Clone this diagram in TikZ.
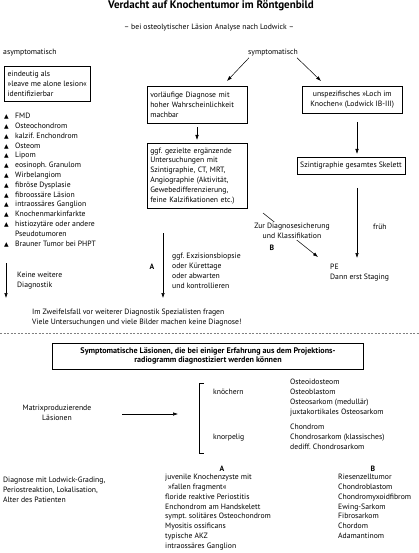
\documentclass[tikz,border=0pt]{standalone}
\usepackage{fontspec}
\setmainfont{PT Sans}
\newfontfamily\symfont{DejaVu Sans}
\usetikzlibrary{arrows.meta}
\newcommand\tri{\makebox[11pt][l]{\symfont\fontsize{6}{6}\selectfont ▲}}
\frenchspacing
\begin{document}
\begin{tikzpicture}[x=1pt,y=-1pt,
  every node/.style={inner sep=0pt, font=\fontsize{7.7}{9.8}\selectfont\frenchspacing},
  box/.style={draw, line width=0.5pt, inner sep=3pt},
  arr/.style={-{Latex[length=5pt,width=3.5pt]}, line width=0.5pt},
  ln/.style={line width=0.5pt},
  lbl/.style={font=\fontsize{7.7}{9.8}\selectfont\bfseries}]
\fill[white] (0,0) rectangle (419,553);
\useasboundingbox (0,0) rectangle (419,553);

% title
\node[font=\fontsize{11}{12}\selectfont\bfseries] (title) at (211,6) {Verdacht auf Knochentumor im Röntgenbild};
\node (sub) at (209,28) {– bei osteolytischer Läsion Analyse nach Lodwick –};

\node[anchor=base west] (asym) at (3,55) {asymptomatisch};
\node[anchor=base] (sym) at (273,55) {symptomatisch};

% left column
\node[box, anchor=north west, align=left, minimum width=86pt, minimum height=35pt] (leave) at (4,66)
  {eindeutig als\\»leave me alone lesion«\\identifizierbar};
\node[anchor=north west, align=left] (list) at (4,113)
  {\tri FMD\\ \tri Osteochondrom\\ \tri kalzif. Enchondrom\\ \tri Osteom\\ \tri Lipom\\
   \tri eosinoph. Granulom\\ \tri Wirbelangiom\\ \tri fibröse Dysplasie\\ \tri fibroossäre Läsion\\
   \tri intraossäres Ganglion\\ \tri Knochenmarkinfarkte\\ \tri histiozytäre oder andere\\
   \hspace*{11pt}Pseudotumoren\\ \tri Brauner Tumor bei PHPT};
\coordinate (k1) at (6,263);
\coordinate (k2) at (6,298);
\draw[arr] (k1) -- (k2);
\node[anchor=north west, align=left] (keine) at (17,272) {Keine weitere\\Diagnostik};

% middle column
\node[box, anchor=north west, align=left, text width=93.5pt, minimum height=37pt] (vorl) at (147,86)
  {vorläufige Diagnose mit\\hoher Wahrscheinlichkeit\\machbar};
\node[box, anchor=north west, align=left, text width=93.5pt, minimum height=65pt] (ggf) at (147,143)
  {ggf. gezielte ergänzende\\Untersuchungen mit\\Szintigraphie, CT, MRT,\\Angiographie (Aktivität,\\Gewebedifferenzierung,\\feine Kalzifikationen etc.)};
\draw[arr, shorten <=4pt, shorten >=3pt] (vorl.south) -- (ggf.north);

\coordinate (a1) at (163,233);
\coordinate (a2) at (163,298);
\draw[arr] (a1) -- (a2);
\node[lbl, anchor=base] (A1) at (152,269) {A};
\node[anchor=north west, align=left] (exz) at (172,253)
  {ggf. Exzisionsbiopsie\\oder Kürettage\\oder abwarten\\und kontrollieren};

% right column
\node[box, anchor=north west, align=center, minimum width=100pt, minimum height=27pt] (unsp) at (302,86)
  {unspezifisches »Loch im\\Knochen« (Lodwick IB-III)};
\node[box, minimum width=97pt, minimum height=17pt] (szin) at (351,166) {Szintigraphie gesamtes Skelett};
\coordinate (u1) at (357,122);
\coordinate (u2) at (357,154);
\draw[arr] (u1) -- (u2);
\coordinate (s1) at (357,188);
\coordinate (s2) at (357,258);
\draw[arr] (s1) -- (s2);
\node[anchor=base west] (frueh) at (373,229) {früh};

\coordinate (sy1) at (227,81);
\coordinate (sy2) at (321,81);
\draw[arr] ([xshift=1pt,yshift=-1pt]sym.south west) -- (sy1);
\draw[arr] ([xshift=-1pt,yshift=-1pt]sym.south east) -- (sy2);

% diagonal B
\coordinate (b1) at (263,213);
\coordinate (b2) at (318,257);
\draw[arr] (b1) -- (b2);
\node[fill=white, inner sep=1pt, align=center] (zur) at (292,231) {Zur Diagnosesicherung\\und Klassifikation};
\node[lbl, anchor=base] (B1) at (272,250) {B};

\node[anchor=north west, align=left] (pe) at (330,264) {PE\\Dann erst Staging};

\node[anchor=north west, align=left] (zweifel) at (32,309)
  {Im Zweifelsfall vor weiterer Diagnostik Spezialisten fragen\\Viele Untersuchungen und viele Bilder machen keine Diagnose!};

\coordinate (d1) at (0,333);
\coordinate (d2) at (419,333);
\draw[ln, dash pattern=on 2pt off 1.5pt, gray] (d1) -- (d2);

% lower part
\node[box, minimum width=311pt, minimum height=26pt, align=center, font=\fontsize{8.1}{9.6}\selectfont\bfseries] (symles) at (208,356)
  {Symptomatische Läsionen, die bei einiger Erfahrung aus dem Projektions-\\radiogramm diagnostiziert werden können};

\node[align=center] (matrix) at (57,413) {Matrixproduzierende\\Läsionen};
\coordinate (m1) at (122,414);
\coordinate (m2) at (178,414);
\draw[arr] (m1) -- (m2);

\coordinate (br1) at (204,383);
\coordinate (br2) at (204,453);
\draw[ln] (br1) -- ++(-5,0) |- (br2);
\node[anchor=base west] (knoe) at (213,394) {knöchern};
\node[anchor=base west] (knor) at (213,439) {knorpelig};
\node[anchor=north west, align=left] (osteo) at (290,379)
  {Osteoidosteom\\Osteoblastom\\Osteosarkom (medullär)\\juxtakortikales Osteosarkom};
\node[anchor=north west, align=left] (chondro) at (290,424)
  {Chondrom\\Chondrosarkom (klassisches)\\dediff. Chondrosarkom};

\node[lbl, anchor=base] (A2) at (222,471) {A};
\node[lbl, anchor=base] (B2) at (373,471) {B};

\node[anchor=north west, align=left] (lodw) at (3,477)
  {Diagnose mit Lodwick-Grading,\\Periostreaktion, Lokalisation,\\Alter des Patienten};
\node[anchor=north west, align=left] (listA) at (165,474)
  {juvenile Knochenzyste mit\\\hspace*{3pt}»fallen fragment«\\floride reaktive Periostitis\\Enchondrom am Handskelett\\sympt. solitäres Osteochondrom\\Myositis ossificans\\typische AKZ\\intraossäres Ganglion};
\node[anchor=north west, align=left] (listB) at (338,474)
  {Riesenzelltumor\\Chondroblastom\\Chondromyxoidfibrom\\Ewing-Sarkom\\Fibrosarkom\\Chordom\\Adamantinom};
\end{tikzpicture}
\end{document}
